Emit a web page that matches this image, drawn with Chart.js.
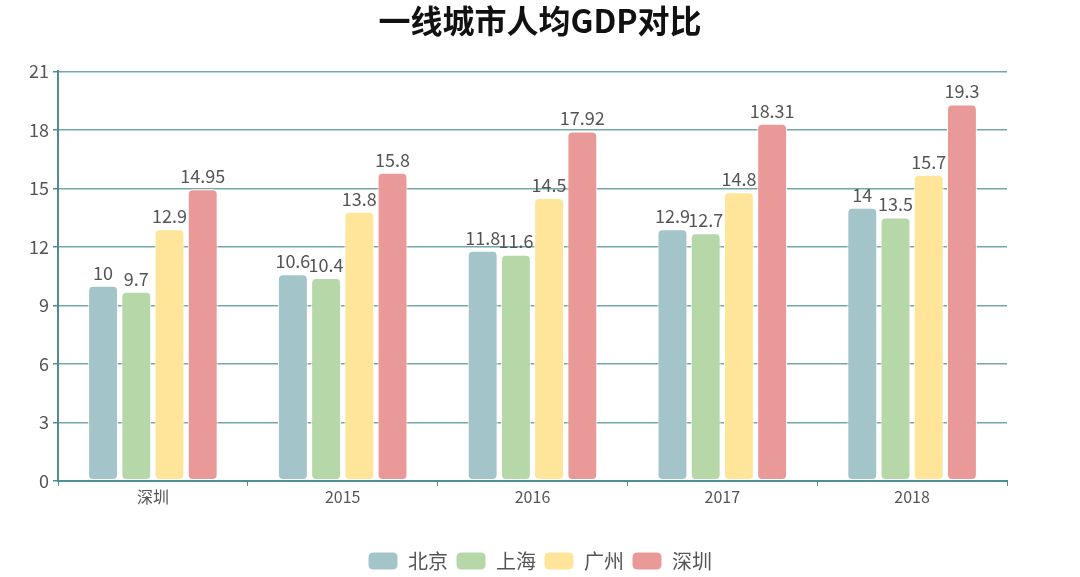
<!DOCTYPE html>
<html>
<head>
<meta charset="utf-8">
<script src="https://cdn.jsdelivr.net/npm/chart.js@4/dist/chart.umd.min.js"></script>
<style>
  html, body { margin: 0; padding: 0; background: #fff; }
  #wrap { width: 1080px; height: 577px; }
</style>
</head>
<body>
<div id="wrap"><canvas id="chart" width="1080" height="577"></canvas></div>
<script>
// 类别和数据
const categories = ['深圳', '2015', '2016', '2017', '2018']
const beijing = [10, 10.6, 11.8, 12.9, 14]
const shanghai = [9.7, 10.4, 11.6, 12.7, 13.5]
const guangzhou = [12.9, 13.8, 14.5, 14.8, 15.7]
const shenzhen = [14.95, 15.8, 17.92, 18.31, 19.3]
const seriesNames = ['北京', '上海', '广州', '深圳']
const seriesColors = ['#a3c4c9', '#b6d7a8', '#ffe599', '#ea9999']

const FONT = "'Noto Sans CJK SC', 'Noto Sans', sans-serif"

// 柱子上方数值
const valueLabels = {
    id: 'valueLabels',
    afterDatasetsDraw(chart) {
        const ctx = chart.ctx
        ctx.save()
        ctx.font = "18px " + FONT
        ctx.fillStyle = '#555'
        ctx.textAlign = 'center'
        ctx.textBaseline = 'bottom'
        chart.data.datasets.forEach(function (ds, i) {
            const meta = chart.getDatasetMeta(i)
            meta.data.forEach(function (bar, j) {
                ctx.fillText(String(ds.data[j]), bar.x, bar.y - 4)
            })
        })
        ctx.restore()
    }
}

const allSeries = [beijing, shanghai, guangzhou, shenzhen]
const datasets = allSeries.map(function (values, i) {
    return {
        label: seriesNames[i],
        data: values,
        backgroundColor: seriesColors[i],
        borderColor: '#ffffff',
        borderWidth: 1,
        borderRadius: 5,
        borderSkipped: false,
        categoryPercentage: 0.7,
        barPercentage: 0.9
    }
})

new Chart(document.getElementById('chart').getContext('2d'), {
    type: 'bar',
    data: { labels: categories, datasets: datasets },
    options: {
        responsive: false,
        animation: false,
        layout: { padding: { left: 0, right: 0, top: 0, bottom: -4 } },
        plugins: {
            title: {
                display: true,
                text: '一线城市人均GDP对比',
                color: '#111',
                font: { family: FONT, size: 32, weight: 'bold' },
                padding: { top: 2, bottom: 31 }
            },
            legend: {
                position: 'bottom',
                labels: {
                    color: '#555',
                    font: { family: FONT, size: 20 },
                    boxWidth: 30,
                    boxHeight: 18,
                    useBorderRadius: true,
                    borderRadius: 5,
                    padding: 8
                }
            },
            tooltip: { enabled: false }
        },
        scales: {
            x: {
                afterFit: function (scale) { scale.height += 34 },
                grid: {
                    display: true,
                    drawOnChartArea: false,
                    drawTicks: true,
                    tickLength: 5,
                    tickColor: '#4e8e94',
                    offset: true
                },
                border: { color: '#4e8e94', width: 2 },
                ticks: {
                    color: '#555',
                    font: { family: FONT, size: 16 },
                    padding: 2
                }
            },
            y: {
                min: 0,
                max: 21,
                afterFit: function (scale) { scale.width = 58 },
                ticks: {
                    stepSize: 3,
                    color: '#555',
                    font: { family: FONT, size: 18 },
                    padding: 4
                },
                grid: {
                    color: '#74a7ab',
                    lineWidth: 1.5,
                    tickLength: 5,
                    tickColor: '#4e8e94'
                },
                border: { color: '#4e8e94', width: 2 }
            },
            // 右侧留白用的空轴
            yRight: {
                position: 'right',
                min: 0,
                max: 21,
                afterFit: function (scale) { scale.width = 73 },
                ticks: { display: false },
                grid: { drawOnChartArea: false, drawTicks: false },
                border: { display: false }
            }
        }
    },
    plugins: [valueLabels]
})
</script>
</body>
</html>
